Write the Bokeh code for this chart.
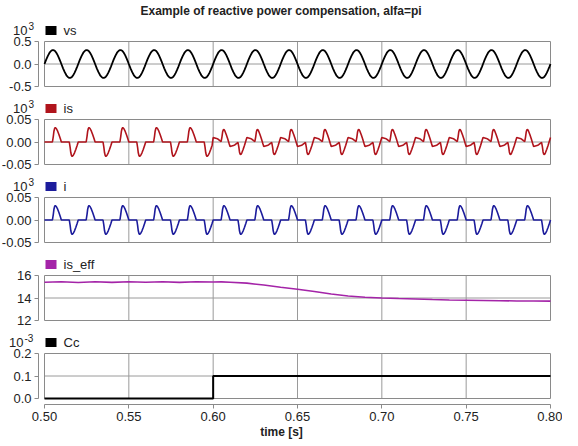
from bokeh.plotting import figure
from bokeh.layouts import column
from bokeh.models import Range1d, FixedTicker, NumeralTickFormatter
from bokeh.core.properties import value
from bokeh.embed import file_html
from bokeh.resources import INLINE

# ---------------- data ----------------
TITLE = "Example of reactive power compensation, alfa=pi"
period_s = 0.02
n_periods = 15
t_first = 0.50
comp_on = 0.60            # capacitor switched in
# phase points inside one 20 ms period (ms)
phase_ms = [0, 1, 2, 3, 4, 4.7, 5.2, 5.6, 6.0, 6.4, 7.0, 7.8, 8.6, 9.4,
            10, 11, 12, 13, 14, 14.7, 15.2, 15.6, 16.0, 16.4, 17.0, 17.8, 18.6, 19.4]
# vs  (x10^3)
vs_period = [0.0, 0.096, 0.182, 0.251, 0.295, 0.309, 0.309, 0.304, 0.295, 0.280, 0.251, 0.198, 0.132, 0.058,
             0.0, -0.096, -0.182, -0.251, -0.295, -0.309, -0.309, -0.304, -0.295, -0.280, -0.251, -0.198, -0.132, -0.058]
# i  (x10^3) thyristor load current
i_period = [0.0, 0.0, 0.0, 0.0, 0.0, 0.0, 0.012, 0.024, 0.030, 0.032, 0.030, 0.024, 0.016, 0.007,
            0.0, 0.0, 0.0, 0.0, 0.0, 0.0, -0.012, -0.024, -0.030, -0.032, -0.030, -0.024, -0.016, -0.007]
# is (x10^3) after compensation (before 0.60 s it equals i)
is_comp_period = [0.010, 0.009, 0.008, 0.006, 0.003, 0.001, 0.011, 0.022, 0.027, 0.028, 0.024, 0.016, 0.007, -0.003,
                  -0.010, -0.009, -0.008, -0.006, -0.003, -0.001, -0.011, -0.022, -0.027, -0.028, -0.024, -0.016, -0.007, 0.003]
# is_eff
eff_t = [0.500, 0.510, 0.520, 0.530, 0.540, 0.550, 0.560, 0.570, 0.580, 0.590, 0.600, 0.605, 0.610, 0.620,
         0.630, 0.640, 0.650, 0.660, 0.670, 0.680, 0.690, 0.700, 0.710, 0.720, 0.730, 0.740, 0.750, 0.760,
         0.770, 0.780, 0.790, 0.800]
eff_v = [15.40, 15.45, 15.38, 15.44, 15.39, 15.45, 15.40, 15.44, 15.39, 15.44, 15.42, 15.43, 15.40, 15.32,
         15.15, 14.95, 14.78, 14.58, 14.35, 14.18, 14.07, 14.00, 13.95, 13.91, 13.86, 13.82, 13.80, 13.78,
         13.76, 13.74, 13.73, 13.72]
# Cc (x10^-3)
cc_t = [0.50, 0.60, 0.80]
cc_v = [0.0, 0.1, 0.1]
x_ticks = [0.50, 0.55, 0.60, 0.65, 0.70, 0.75, 0.80]

# build periodic waveforms from the one-period readings
t_wave, vs_wave, i_wave, is_wave = [], [], [], []
for k in range(n_periods):
    t0 = t_first + k * period_s
    after = t0 >= comp_on - 1e-9
    for j, ph in enumerate(phase_ms):
        t_wave.append(t0 + ph / 1000.0)
        vs_wave.append(vs_period[j])
        i_wave.append(i_period[j])
        is_wave.append(is_comp_period[j] if after else i_period[j])
t_wave.append(t_first + n_periods * period_s)
vs_wave.append(vs_period[0]); i_wave.append(i_period[0]); is_wave.append(is_comp_period[0])

# ---------------- style / layout ----------------
FONT = "Liberation Sans"
BOX_C = "#8a8a8a"
GRID_C = "#9a9a9a"
TXT_C = "#222222"
FIG_W = 562
BOX_L = 44          # box left inside the figure (px)
BOX_W = 506
AX_GAP = 6          # y axis line sits this far left of the box
BOX_H = 45
x_per_px = (x_ticks[-1] - x_ticks[0]) / BOX_W
x_start = x_ticks[0] - BOX_L * x_per_px
x_end = x_start + FIG_W * x_per_px


def txt(p, x, y, s, size, align):
    p.text(x=[x], y=[y], text=[s], text_align=align, text_baseline="middle",
           text_font=value(FONT), text_font_size=value(size), text_color=TXT_C)


def panel(first, last, header, ymin, ymax, yticks, yfmt, name, color, exp, draw):
    bottom = 6 if last else 8
    ypp = (ymax - ymin) / BOX_H
    kw = {}
    if first:
        kw["title"] = TITLE
    p = figure(frame_width=FIG_W, frame_height=header + BOX_H + bottom,
               x_range=Range1d(x_start, x_end),
               y_range=Range1d(ymin - bottom * ypp, ymax + header * ypp),
               output_backend="svg", toolbar_location=None,
               x_axis_location="below" if last else None,
               min_border_left=0, min_border_right=0, min_border_top=0, min_border_bottom=0,
               **kw)
    p.outline_line_color = None
    p.grid.visible = False
    if first:
        p.title.text_font = FONT
        p.title.text_font_size = "12px"
        p.title.text_font_style = "bold"
        p.title.text_color = TXT_C
        p.title.align = "left"
        p.title.offset = 140
        p.title.standoff = 2

    for ax in p.yaxis + (p.xaxis if last else []):
        ax.axis_line_color = BOX_C
        ax.major_tick_line_color = BOX_C
        ax.major_tick_out = 4
        ax.major_tick_in = 0
        ax.minor_tick_out = 0
        ax.minor_tick_in = 0
        ax.major_label_standoff = 3
        ax.major_label_text_font = FONT
        ax.major_label_text_font_size = "13px"
        ax.major_label_text_color = TXT_C
    p.yaxis.ticker = FixedTicker(ticks=yticks, minor_ticks=[])
    p.yaxis.formatter = NumeralTickFormatter(format=yfmt)
    p.yaxis.bounds = (ymin, ymax)
    p.yaxis.fixed_location = x_ticks[0] - AX_GAP * x_per_px
    if last:
        p.xaxis.ticker = FixedTicker(ticks=x_ticks, minor_ticks=[])
        p.xaxis.formatter = NumeralTickFormatter(format="0.00")
        p.xaxis.bounds = (x_ticks[0], x_ticks[-1])
        p.xaxis.axis_label = "time [s]"
        p.xaxis.axis_label_text_font = FONT
        p.xaxis.axis_label_text_font_size = "12px"
        p.xaxis.axis_label_text_font_style = "bold"
        p.xaxis.axis_label_text_color = TXT_C
        p.xaxis.axis_label_standoff = 1

    # grid lines and panel box
    vx = x_ticks[1:-1]
    p.segment(x0=vx, x1=vx, y0=[ymin] * len(vx), y1=[ymax] * len(vx), line_color=GRID_C, line_width=1)
    p.segment(x0=[x_ticks[0]], x1=[x_ticks[-1]], y0=[yticks[1]], y1=[yticks[1]], line_color=GRID_C, line_width=1)
    p.quad(left=[x_ticks[0]], right=[x_ticks[-1]], bottom=[ymin], top=[ymax],
           fill_color=None, line_color=BOX_C, line_width=1)

    draw(p, color)

    # legend row above the box: colour square + name, and the scale exponent
    yc = ymax + 11 * ypp
    p.quad(left=[x_ticks[0] + 1 * x_per_px], right=[x_ticks[0] + 12 * x_per_px],
           bottom=[yc - 4.5 * ypp], top=[yc + 4.5 * ypp], fill_color=color, line_color=None)
    txt(p, x_ticks[0] + 19 * x_per_px, yc, name, "13px", "left")
    if exp:
        shift = 4 * (len(exp) - 1)
        txt(p, x_ticks[0] - (17 + shift) * x_per_px, yc, "10", "13px", "right")
        txt(p, x_ticks[0] - (16 + shift) * x_per_px, ymax + 16 * ypp, exp, "10px", "left")
    return p


def d_vs(p, c):
    p.line(t_wave, vs_wave, line_color=c, line_width=1.8)


def d_is(p, c):
    p.line(t_wave, is_wave, line_color=c, line_width=1.6)


def d_i(p, c):
    p.line(t_wave, i_wave, line_color=c, line_width=1.6)


def d_eff(p, c):
    p.line(eff_t, eff_v, line_color=c, line_width=1.6)


def d_cc(p, c):
    p.step(cc_t, cc_v, mode="after", line_color=c, line_width=2)


p1 = panel(True, False, 23, -0.5, 0.5, [-0.5, 0.0, 0.5], "0.0", "vs", "#000000", "3", d_vs)
p2 = panel(False, False, 25, -0.05, 0.05, [-0.05, 0.0, 0.05], "0.00", "is", "#b0141c", "3", d_is)
p3 = panel(False, False, 25, -0.05, 0.05, [-0.05, 0.0, 0.05], "0.00", "i", "#1c1c9c", "3", d_i)
p4 = panel(False, False, 25, 12, 16, [12, 14, 16], "0", "is_eff", "#a424a8", None, d_eff)
p5 = panel(False, True, 25, 0.0, 0.2, [0.0, 0.1, 0.2], "0.0", "Cc", "#000000", "-3", d_cc)

layout = column(p1, p2, p3, p4, p5, spacing=0)
open("out.html", "w").write(file_html(layout, INLINE))
